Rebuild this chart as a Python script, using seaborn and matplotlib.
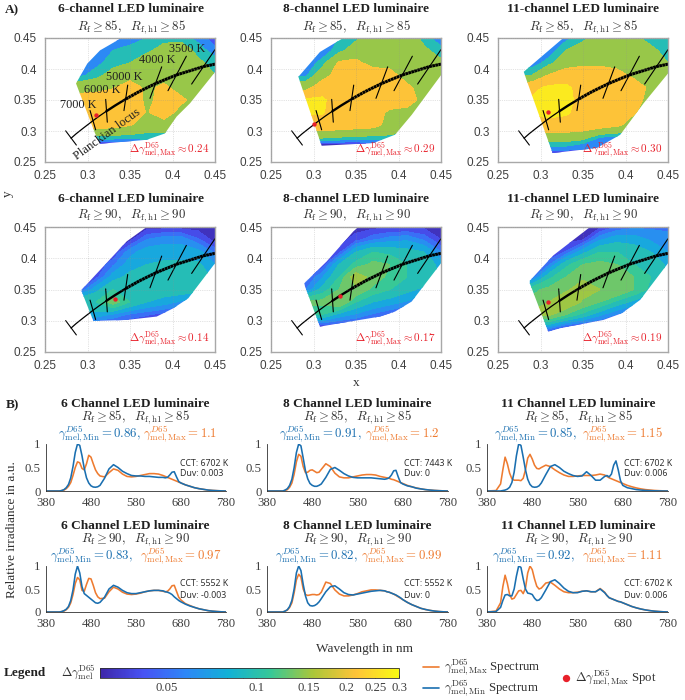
import numpy as np
import matplotlib
matplotlib.use('Agg')
import matplotlib.pyplot as plt
import seaborn as sns
from matplotlib.colors import LogNorm
from matplotlib.cm import ScalarMappable
from matplotlib.patches import Polygon
from matplotlib.ticker import NullFormatter

sns.set_theme(style='white')
plt.rcParams['mathtext.fontset'] = 'cm'
plt.rcParams['font.family'] = 'Liberation Serif'

W, H = 685, 700

# chromaticity grid for the maps
grid_x = [.27, .29, .31, .33, .35, .37, .39, .41, .43, .45]
grid_y = [.45, .43, .41, .39, .37, .35, .33, .31, .29, .28, .265]

map_6_85 = [
    [.04, .04, .04, .04, .05, .07, .085, .085, .06, .034],
    [.042, .042, .045, .07, .085, .09, .12, .13, .085, .055],
    [.05, .05, .06, .085, .1, .135, .135, .135, .11, .085],
    [.05, .06, .085, .12, .135, .135, .135, .135, .135, .1],
    [.135, .135, .14, .16, .2, .15, .18, .135, .135, .135],
    [.18, .2, .205, .21, .21, .15, .19, .18, .135, .135],
    [.2, .2, .21, .21, .21, .16, .2, .14, .135, .135],
    [.2, .2, .2, .19, .17, .135, .135, .11, .1, .1],
    [.085, .085, .085, .085, .08, .08, .08, .06, .06, .06],
    [.033, .033, .034, .034, .035, .05, .06, .06, .06, .06],
    [.033, .033, .033, .033, .033, .033, .033, .033, .033, .033],
]
map_8_85 = [
    [.06, .06, .06, .07, .09, .135, .135, .135, .085, .05],
    [.045, .05, .05, .085, .13, .135, .135, .135, .11, .08],
    [.045, .05, .08, .175, .18, .14, .14, .135, .135, .11],
    [.06, .06, .13, .2, .205, .205, .19, .135, .135, .12],
    [.135, .135, .21, .21, .21, .21, .205, .18, .135, .135],
    [.25, .25, .25, .21, .21, .21, .21, .2, .14, .135],
    [.25, .25, .245, .21, .21, .2, .15, .14, .135, .135],
    [.21, .21, .21, .21, .2, .19, .14, .13, .11, .1],
    [.11, .11, .11, .1, .09, .09, .09, .07, .06, .06],
    [.034, .034, .034, .034, .034, .04, .05, .05, .05, .05],
    [.033, .033, .033, .033, .033, .033, .033, .033, .033, .033],
]
map_11_85 = [
    [.06, .06, .06, .06, .085, .135, .135, .11, .085, .085],
    [.05, .05, .05, .1, .135, .135, .135, .135, .11, .085],
    [.05, .05, .085, .135, .15, .15, .14, .135, .135, .1],
    [.1, .1, .17, .2, .205, .205, .19, .15, .135, .13],
    [.2, .22, .255, .255, .21, .21, .21, .2, .15, .135],
    [.25, .25, .265, .255, .22, .21, .21, .19, .14, .135],
    [.25, .25, .265, .25, .21, .21, .2, .17, .135, .135],
    [.2, .2, .21, .21, .21, .2, .18, .135, .1, .1],
    [.13, .13, .135, .135, .12, .07, .06, .06, .06, .06],
    [.085, .085, .085, .085, .07, .06, .06, .06, .06, .06],
    [.035, .035, .035, .034, .034, .045, .06, .06, .06, .06],
]
map_6_90 = [
    [.032, .032, .032, .032, .032, .032, .032, .032, .032, .032],
    [.032, .032, .032, .032, .033, .052, .058, .058, .045, .032],
    [.032, .032, .032, .035, .058, .068, .068, .068, .066, .05],
    [.035, .035, .035, .05, .068, .075, .078, .078, .078, .062],
    [.04, .04, .04, .068, .08, .085, .088, .088, .088, .07],
    [.04, .04, .07, .09, .09, .085, .085, .085, .082, .07],
    [.09, .09, .09, .115, .09, .075, .068, .06, .05, .05],
    [.07, .07, .07, .06, .05, .045, .04, .035, .034, .034],
    [.032, .032, .032, .032, .032, .032, .032, .032, .032, .032],
    [.032, .032, .032, .032, .032, .032, .032, .032, .032, .032],
    [.032, .032, .032, .032, .032, .032, .032, .032, .032, .032],
]
map_8_90 = [
    [.032, .032, .032, .032, .032, .033, .034, .034, .034, .032],
    [.032, .032, .032, .032, .04, .05, .057, .06, .05, .036],
    [.032, .032, .032, .04, .075, .09, .085, .08, .075, .052],
    [.034, .034, .036, .075, .095, .11, .105, .09, .085, .07],
    [.04, .04, .06, .09, .14, .115, .1, .09, .09, .072],
    [.05, .05, .08, .105, .12, .1, .09, .08, .07, .06],
    [.11, .11, .11, .125, .09, .075, .068, .06, .05, .05],
    [.09, .09, .09, .07, .06, .05, .042, .035, .034, .034],
    [.034, .034, .034, .032, .032, .032, .032, .032, .032, .032],
    [.032, .032, .032, .032, .032, .032, .032, .032, .032, .032],
    [.032, .032, .032, .032, .032, .032, .032, .032, .032, .032],
]
map_11_90 = [
    [.032, .032, .032, .032, .032, .034, .045, .05, .05, .05],
    [.032, .032, .032, .032, .035, .06, .07, .068, .06, .055],
    [.034, .034, .034, .045, .07, .09, .09, .085, .075, .062],
    [.04, .04, .05, .085, .105, .11, .105, .09, .085, .072],
    [.045, .045, .085, .105, .12, .11, .12, .105, .09, .072],
    [.1, .1, .11, .12, .14, .125, .125, .105, .085, .068],
    [.11, .11, .125, .15, .12, .105, .085, .07, .055, .05],
    [.13, .13, .13, .105, .085, .065, .05, .04, .036, .036],
    [.06, .06, .06, .04, .033, .032, .032, .032, .032, .032],
    [.032, .032, .032, .032, .032, .032, .032, .032, .032, .032],
    [.032, .032, .032, .032, .032, .032, .032, .032, .032, .032],
]

# gamut outlines of the maps
gamut_6_85 = [(.2865, .3767), (.2998, .4088), (.3147, .43), (.34, .45), (.45, .45), (.45, .395), (.4206, .3447),
              (.4049, .3233), (.391, .296), (.3696, .2858), (.3147, .2794), (.3088, .2965)]
gamut_8_85 = [(.2822, .3874), (.3076, .4275), (.335, .45), (.45, .45), (.45, .39), (.4155, .326), (.3959, .294),
              (.3704, .2805), (.3096, .2762), (.286, .3717)]
gamut_11_85 = [(.2803, .3955), (.3268, .45), (.45, .45), (.45, .3928), (.4213, .3447), (.3937, .2938), (.3661, .2725),
               (.3142, .2644), (.2835, .3826)]
gamut_6_90 = [(.2931, .3495), (.3461, .427), (.3696, .45), (.45, .45), (.45, .392), (.4186, .336), (.401, .32),
              (.3814, .3067), (.346, .3013), (.3069, .2997), (.2931, .347)]
gamut_8_90 = [(.2892, .36), (.3155, .3949), (.3469, .443), (.3527, .45), (.45, .45), (.45, .392), (.4155, .3307),
              (.3959, .3147), (.3782, .3067), (.3076, .2907), (.29, .355)]
gamut_11_90 = [(.2874, .3639), (.315, .4045), (.3583, .45), (.45, .45), (.45, .392), (.4173, .3334), (.3957, .312),
               (.374, .3013), (.3228, .288), (.3091, .2826), (.2874, .36)]

# Planckian locus
locus_x = [.2807, .2867, .2952, .3064, .3135, .3221, .3324, .3451, .3608, .3805, .4053, .4369, .4599]
locus_y = [.2884, .2956, .3048, .3166, .3237, .3318, .3410, .3516, .3636, .3768, .3907, .4041, .4106]
iso_x0 = [.2743, .3030, .3214, .3473, .3873, .4163, .45]
iso_y0 = [.3003, .3330, .3510, .3740, .4035, .4206, .4313]
iso_x1 = [.2869, .3096, .3233, .3429, .3735, .3947, .4225]
iso_y1 = [.2773, .3019, .3142, .3329, .3527, .3650, .3757]

spot_x = [.3104, .301, .3087, .332, .3312, .3087]
spot_y = [.3259, .3115, .3313, .3345, .3404, .3307]
max_gain = ['0.24', '0.29', '0.30', '0.14', '0.17', '0.19']

# spectra
wavelength = [380, 400, 410, 415, 420, 425, 430, 435, 440, 445, 450, 455, 460, 465, 470, 475, 480, 485, 490, 495, 500,
              510, 520, 530, 540, 550, 560, 570, 580, 590, 600, 610, 620, 630, 640,
              645, 650, 655, 660, 665, 670, 675, 680,
              690, 700, 710, 720, 730, 740, 750, 760, 770, 780]
min_6_85 = [0, 0, 0, .01, .03, .07, .14, .28, .52, .82, 1.0, .97, .75, .48, .28, .17, .11, .085, .08, .09, .12,
            .27, .47, .56, .50, .42, .37, .33, .32, .32, .31, .31, .30, .29, .29,
            .28, .29, .34, .40, .41, .30, .20, .17,
            .13, .10, .07, .05, .035, .02, .012, .007, .003, 0]
max_6_85 = [0, 0, 0, .01, .02, .05, .10, .18, .33, .50, .62, .60, .48, .45, .58, .76, .72, .58, .45, .37, .32,
            .30, .39, .47, .44, .36, .31, .30, .31, .33, .35, .37, .37, .36, .33,
            .31, .29, .27, .25, .23, .21, .19, .17,
            .13, .10, .07, .05, .035, .02, .012, .007, .003, 0]
min_8_85 = [0, 0, 0, 0, .02, .05, .12, .25, .5, .82, 1.0, .96, .7, .43, .26, .16, .12, .10, .10, .12, .15,
            .29, .46, .50, .44, .37, .32, .29, .28, .28, .28, .28, .27, .26, .25,
            .26, .28, .34, .43, .44, .30, .18, .15,
            .11, .09, .06, .045, .03, .02, .012, .007, .003, 0]
max_8_85 = [0, 0, 0, 0, .01, .03, .08, .17, .36, .62, .78, .74, .52, .39, .40, .44, .45, .42, .39, .40, .46,
            .58, .52, .38, .30, .28, .28, .30, .32, .34, .35, .35, .34, .31, .29,
            .28, .27, .25, .24, .22, .20, .18, .16,
            .12, .09, .065, .045, .03, .02, .012, .007, .003, 0]
min_11_85 = [0, 0, 0, .01, .02, .04, .08, .18, .4, .75, 1.0, .97, .72, .45, .25, .14, .09, .08, .085, .11, .17,
             .35, .52, .56, .50, .42, .37, .33, .31, .32, .41, .33, .23, .23, .31,
             .33, .30, .36, .55, .64, .45, .22, .12,
             .07, .05, .03, .02, .012, .008, .004, .002, 0, 0]
max_11_85 = [0, .01, .15, .45, .72, .58, .38, .26, .23, .23, .23, .22, .27, .45, .70, .78, .68, .55, .48, .47, .50,
             .55, .52, .45, .39, .34, .31, .31, .32, .33, .33, .33, .34, .36, .34,
             .31, .28, .26, .24, .22, .20, .18, .16,
             .12, .09, .065, .045, .03, .02, .012, .007, .003, 0]
min_6_90 = [0, 0, 0, .01, .03, .06, .12, .25, .48, .82, 1.0, .85, .55, .40, .36, .32, .28, .24, .20, .19, .21,
            .32, .50, .58, .54, .47, .42, .40, .40, .42, .44, .46, .47, .47, .46,
            .44, .43, .41, .38, .33, .29, .25, .22,
            .17, .13, .10, .07, .05, .03, .018, .01, .004, 0]
max_6_90 = [0, 0, 0, .01, .02, .05, .10, .2, .38, .62, .75, .7, .47, .45, .6, .73, .72, .58, .42, .33, .29,
            .30, .44, .54, .50, .43, .39, .38, .39, .41, .44, .46, .47, .47, .45,
            .44, .45, .50, .57, .58, .45, .32, .26,
            .18, .14, .10, .07, .05, .03, .018, .01, .004, 0]
min_8_90 = [0, 0, 0, 0, .02, .05, .12, .25, .5, .85, 1.0, .9, .6, .35, .2, .14, .13, .14, .17, .22, .29,
            .44, .55, .57, .50, .42, .38, .37, .39, .41, .43, .45, .46, .47, .46,
            .44, .43, .41, .39, .37, .34, .31, .27,
            .21, .16, .12, .08, .055, .035, .02, .01, .004, 0]
max_8_90 = [0, 0, 0, 0, .02, .04, .1, .2, .42, .7, .82, .76, .5, .38, .36, .37, .38, .38, .37, .38, .43,
            .65, .62, .48, .39, .35, .35, .37, .40, .44, .46, .48, .48, .47, .46,
            .44, .43, .41, .39, .36, .33, .30, .27,
            .21, .16, .12, .08, .055, .035, .02, .01, .004, 0]
min_11_90 = [0, .01, .1, .25, .37, .38, .35, .35, .5, .78, 1.0, .97, .72, .5, .41, .40, .38, .3, .25, .26, .31,
             .48, .66, .70, .62, .52, .45, .42, .42, .45, .46, .44, .44, .50, .42,
             .36, .31, .29, .27, .25, .23, .22, .20,
             .16, .12, .09, .065, .045, .03, .018, .01, .004, 0]
max_11_90 = [0, .02, .2, .55, .8, .62, .38, .28, .30, .38, .46, .47, .40, .52, .85, 1.0, .92, .72, .56, .50, .52,
             .63, .65, .58, .50, .44, .42, .42, .43, .45, .46, .44, .44, .51, .43,
             .36, .31, .29, .27, .25, .23, .22, .20,
             .16, .12, .09, .065, .045, .03, .018, .01, .004, 0]

gamma_min = ['0.86', '0.91', '0.85', '0.83', '0.82', '0.92']
gamma_max = ['1.1', '1.2', '1.15', '0.97', '0.99', '1.11']
cct_text = ['CCT: 6702 K', 'CCT: 7443 K', 'CCT: 6702 K', 'CCT: 5552 K', 'CCT: 5552 K', 'CCT: 6702 K']
duv_text = ['Duv: 0.003', 'Duv: 0', 'Duv: 0.006', 'Duv: -0.003', 'Duv: 0', 'Duv: 0.006']

parula = [(.2422, .1504, .6603), (.2810, .3228, .9579), (.1786, .5289, .9682), (.0689, .6948, .8394),
          (.2161, .7843, .5923), (.6720, .7793, .2227), (.9970, .7659, .2199), (.9769, .9839, .0805)]
cmap = sns.blend_palette(parula, as_cmap=True)
norm = LogNorm(.03, .3)
levels_85 = [.0, .037, .048, .07, .1, .165, .24, 1]
bands_85 = [.033, .042, .059, .095, .147, .215, .27]
levels_90 = [.0, .036, .044, .052, .062, .075, .09, .105, .125, .15, .19, 1]
bands_90 = [.033, .04, .05, .062, .075, .095, .112, .13, .15, .175, .22]

BLUE = '#1a6fb0'
ORANGE = '#ee7b30'
RED = '#e8202a'
TICK = '#404040'


def px_axes(left, top, right, bottom):
    return fig.add_axes([left / W, 1 - bottom / H, (right - left) / W, (bottom - top) / H])


def px_text(x, y, s, **kw):
    kw.setdefault('ha', 'center')
    kw.setdefault('va', 'center')
    return fig.text(x / W, 1 - y / H, s, **kw)


fig = plt.figure(figsize=(W / 100, H / 100), dpi=100)

# A) maps
map_left = [45, 271, 498]
map_right = [215, 441, 668]
map_top = [38, 227]
map_bottom = [162, 352]
title_cx = [131, 356, 583]
map_data = [map_6_85, map_8_85, map_11_85, map_6_90, map_8_90, map_11_90]
gamut_data = [gamut_6_85, gamut_8_85, gamut_11_85, gamut_6_90, gamut_8_90, gamut_11_90]
names = ['6', '8', '11']

for i in range(6):
    row, col = i // 3, i % 3
    ax = px_axes(map_left[col], map_top[row], map_right[col], map_bottom[row])
    levels = levels_85 if row == 0 else levels_90
    bands = bands_85 if row == 0 else bands_90
    cs = ax.contourf(grid_x, grid_y, np.array(map_data[i]), levels=levels, colors=[cmap(norm(b)) for b in bands])
    cs.set_clip_path(Polygon(gamut_data[i], transform=ax.transData))
    ax.set_xlim(.25, .45)
    ax.set_ylim(.25, .45)
    ax.set_xticks([.25, .3, .35, .4, .45])
    ax.set_yticks([.25, .3, .35, .4, .45])
    ax.set_xticklabels(['0.25', '0.3', '0.35', '0.4', '0.45'], fontfamily='Liberation Sans', fontsize=8.5, color=TICK)
    ax.set_yticklabels(['0.25', '0.3', '0.35', '0.4', '0.45'], fontfamily='Liberation Sans', fontsize=8.5, color=TICK)
    ax.tick_params(axis='x', direction='in', length=2, width=.5, color='#808080', pad=6)
    ax.tick_params(axis='y', direction='in', length=2, width=.5, color='#808080', pad=6)
    ax.grid(True, ls=':', lw=.5, color='#909090', alpha=.5)
    ax.set_axisbelow(False)
    for sp in ax.spines.values():
        sp.set_visible(True)
        sp.set_color('#a8a8a8')
        sp.set_linewidth(1)

    # locus, thin at the cold end, thick towards warm white
    ax.plot(locus_x[:6], locus_y[:6], color='black', lw=.9)
    ax.plot(locus_x[5:8], locus_y[5:8], color='black', lw=1.7)
    ax.plot(locus_x[7:], locus_y[7:], color='black', lw=2.2, ls=(0, (.9, .12)))
    for k in range(len(iso_x0)):
        ax.plot([iso_x0[k], iso_x1[k]], [iso_y0[k], iso_y1[k]], color='black', lw=.8)
    sns.scatterplot(x=[spot_x[i]], y=[spot_y[i]], color=RED, s=10, linewidth=0, ax=ax, zorder=5, legend=False)
    ax.set_xlabel('')
    ax.set_ylabel('')
    ax.text(.443, .2695, r'$\Delta\gamma^{\mathrm{D65}}_{\mathrm{mel,Max}}\approx ' + max_gain[i] + '$',
            color=RED, fontsize=8, ha='right', va='center')

    if i == 0:
        for tx, ty, lab in [(.2888, .3425, '7000 K'), (.317, .3665, '6000 K'), (.343, .3874, '5000 K'),
                            (.3818, .4147, '4000 K'), (.417, .4323, '3500 K')]:
            ax.text(tx, ty, lab, fontsize=8.8, ha='center', va='center', color='#202020')
        ax.text(.3229, .2943, 'Planckian locus', fontsize=9, rotation=36, ha='center', va='center', color='#202020')

    ty = [9, 199][row]
    sy = [27, 216][row]
    px_text(title_cx[col], ty, names[col] + '-channel LED luminaire', fontweight='bold', fontsize=9.6, color='#202020')
    thr = ['85', '90'][row]
    px_text(title_cx[col], sy, r'$R_{\mathrm{f}}\geq ' + thr + r',\ \ R_{\mathrm{f,h1}}\geq ' + thr + '$',
            fontsize=9.2, color='#303030')

px_text(12, 10, 'A)', fontweight='bold', fontsize=9.5, color='#202020')
px_text(8, 194, 'y', fontsize=9.5, color='#303030', rotation=90)
px_text(356, 383, 'x', fontsize=9.5, color='#303030')

# B) spectra
spec_left = [46, 267, 487]
spec_right = [226, 448, 668]
spec_top = [444, 566]
spec_bottom = [491, 612]
spec_cx = [135, 357, 578]
sep_blue = [141, 362, 577, 133, 358, 575]
sep_orange = [143, 365, 582, 140, 361, 582]
cct_x = [180, 404, 624]
cct_y = [[463, 474], [583, 595]]
title_y = [[404, 417, 434], [526, 540, 556]]
spec_min = [min_6_85, min_8_85, min_11_85, min_6_90, min_8_90, min_11_90]
spec_max = [max_6_85, max_8_85, max_11_85, max_6_90, max_8_90, max_11_90]

for i in range(6):
    row, col = i // 3, i % 3
    ax = px_axes(spec_left[col], spec_top[row], spec_right[col], spec_bottom[row])
    sns.lineplot(x=wavelength, y=spec_max[i], color=ORANGE, lw=1.15, ax=ax, estimator=None, legend=False)
    sns.lineplot(x=wavelength, y=spec_min[i], color=BLUE, lw=1.15, ax=ax, estimator=None, legend=False)
    ax.set_xlim(380, 780)
    ax.set_ylim(0, 1)
    ax.set_xticks(range(380, 781, 100))
    ax.set_yticks([0, .5, 1])
    ax.set_yticklabels(['0', '0.5', '1'])
    ax.tick_params(labelsize=9.2, labelcolor=TICK, direction='in', length=2, width=.6, color='#303030', pad=4)
    ax.set_xlabel('')
    ax.set_ylabel('')
    ax.patch.set_alpha(0)
    sns.despine(ax=ax)
    ax.spines['left'].set_color('#303030')
    ax.spines['bottom'].set_color('#303030')
    ax.spines['left'].set_linewidth(.6)
    ax.spines['bottom'].set_linewidth(.6)

    t0, t1, t2 = title_y[row]
    px_text(spec_cx[col], t0, names[col] + ' Channel LED luminaire', fontweight='bold', fontsize=9.6, color='#202020')
    thr = ['85', '90'][row]
    px_text(spec_cx[col], t1, r'$R_{\mathrm{f}}\geq ' + thr + r',\ \ R_{\mathrm{f,h1}}\geq ' + thr + '$',
            fontsize=9.2, color='#303030')
    px_text(sep_blue[i], t2, r'$\gamma^{D65}_{\mathrm{mel,Min}}=' + gamma_min[i] + ',$', color=BLUE, fontsize=9.2, ha='right')
    px_text(sep_orange[i], t2, r'$\gamma^{D65}_{\mathrm{mel,Max}}=' + gamma_max[i] + '$', color=ORANGE, fontsize=9.2, ha='left')
    px_text(cct_x[col], cct_y[row][0], cct_text[i], fontfamily='Noto Sans', fontsize=6.3, color='#303030', ha='left')
    px_text(cct_x[col], cct_y[row][1], duv_text[i], fontfamily='Noto Sans', fontsize=6.3, color='#303030', ha='left')

px_text(12, 405, 'B)', fontweight='bold', fontsize=9.5, color='#202020')
px_text(12, 530, 'Relative irradiance in a.u.', fontsize=9.5, color='#303030', rotation=90)
px_text(365, 649, 'Wavelength in nm', fontsize=9.5, color='#303030')

# legend row
px_text(25, 673, 'Legend', fontweight='bold', fontsize=9.5, color='#202020')
px_text(78, 672, r'$\Delta\gamma^{\mathrm{D65}}_{\mathrm{mel}}$', fontsize=9, color='#303030')
cax = px_axes(100, 668, 399, 678)
cb = fig.colorbar(ScalarMappable(norm=norm, cmap=cmap), cax=cax, orientation='horizontal')
cb.set_ticks([.05, .1, .15, .2, .25, .3])
cb.set_ticklabels(['0.05', '0.1', '0.15', '0.2', '0.25', '0.3'])
cb.ax.xaxis.set_minor_formatter(NullFormatter())
cb.ax.tick_params(which='major', labelsize=9.2, labelcolor=TICK, length=2, width=.5, direction='in', pad=3)
cb.ax.tick_params(which='minor', length=1, width=.4, direction='in')
cb.outline.set_linewidth(.6)
cb.outline.set_edgecolor('#303030')

leg = fig.add_axes([0, 0, 1, 1])
leg.set_xlim(0, W)
leg.set_ylim(H, 0)
leg.axis('off')
leg.plot([423, 439], [667, 667], color=ORANGE, lw=1.2)
leg.plot([423, 439], [688, 688], color=BLUE, lw=1.2)
sns.scatterplot(x=[566], y=[678], color=RED, s=28, linewidth=0, ax=leg, legend=False)
leg.set_xlabel('')
leg.set_ylabel('')
px_text(444, 667, r'$\gamma^{\mathrm{D65}}_{\mathrm{mel,Max}}$ Spectrum', fontsize=9.2, color='#303030', ha='left')
px_text(444, 688, r'$\gamma^{\mathrm{D65}}_{\mathrm{mel,Min}}$ Spectrum', fontsize=9.2, color='#303030', ha='left')
px_text(575, 678, r'$\Delta\gamma^{\mathrm{D65}}_{\mathrm{mel,Max}}$ Spot', fontsize=9.2, color='#303030', ha='left')

fig.savefig('out.png', dpi=100)
